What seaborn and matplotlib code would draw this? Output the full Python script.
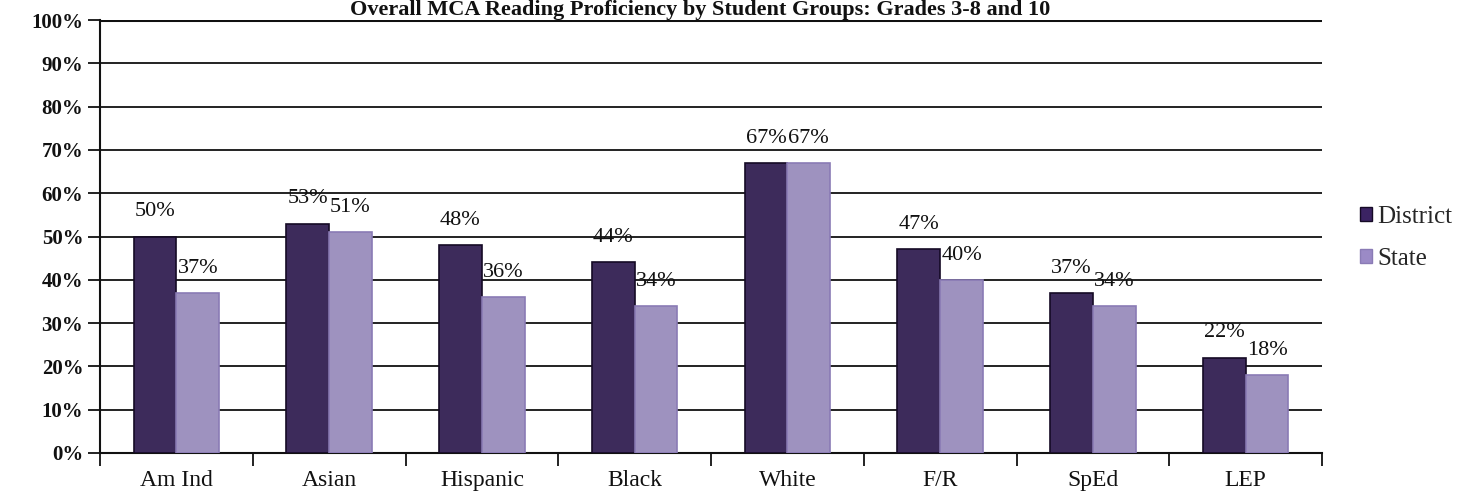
import matplotlib
matplotlib.use("Agg")
import matplotlib.pyplot as plt
import seaborn as sns
import pandas as pd

groups = ["Am Ind", "Asian", "Hispanic", "Black", "White", "F/R", "SpEd", "LEP"]
district = [50, 53, 48, 44, 67, 47, 37, 22]
state = [37, 51, 36, 34, 67, 40, 34, 18]
series = ["District", "State"]
colors = ["#3b2363", "#9b8ac6"]
edges = ["#150a25", "#8a7bb5"]
title = "Overall MCA Reading Proficiency by Student Groups: Grades 3-8 and 10"

df = pd.DataFrame({
    "group": groups * 2,
    "value": district + state,
    "series": [series[0]] * len(groups) + [series[1]] * len(groups),
})

sns.set_theme(style="white")
plt.rcParams["font.family"] = ["Liberation Serif", "DejaVu Serif"]

fig = plt.figure(figsize=(14.74, 5.03), dpi=100)
ax = fig.add_axes([100 / 1474, 50 / 503, 1222 / 1474, 433 / 503])

sns.barplot(data=df, x="group", y="value", hue="series", order=groups,
            hue_order=series, palette=colors, width=0.56, gap=0.0,
            edgecolor="none", ax=ax, legend=False, zorder=3)

# darker outline around each bar
for container, ec in zip(ax.containers, edges):
    for bar in container:
        bar.set_edgecolor(ec)
        bar.set_linewidth(1.2)

ax.set_ylim(0, 100)
ax.set_xlim(-0.5, len(groups) - 0.5)
ax.set_yticks(range(0, 101, 10))
ax.set_yticklabels([f"{v}%" for v in range(0, 101, 10)], fontsize=15,
                   fontweight="bold")
for v in range(10, 101, 10):
    ax.axhline(v, color="#111111", lw=2.2 if v == 100 else 1.3, zorder=1)

ax.set_xticks(range(len(groups)))
ax.set_xticklabels(groups, fontsize=17, color="#111111")
ax.tick_params(axis="x", which="major", length=0, pad=12)
ax.set_xticks([i + 0.5 for i in range(-1, len(groups))], minor=True)
ax.tick_params(axis="x", which="minor", length=9, width=1.3, color="#111111",
               direction="out", bottom=True)
ax.tick_params(axis="y", length=9, width=1.3, color="#111111", left=True,
               direction="out", pad=3, labelcolor="#111111")
ax.set_xlabel("")
ax.set_ylabel("")

for s in ["top", "right"]:
    ax.spines[s].set_visible(False)
for s in ["left", "bottom"]:
    ax.spines[s].set_color("#111111")
    ax.spines[s].set_linewidth(1.5)

# value labels above each bar
for container, vals in zip(ax.containers, [district, state]):
    for bar, v in zip(container, vals):
        ax.annotate(f"{v}%", (bar.get_x() + bar.get_width() / 2, v),
                    xytext=(0, 11), textcoords="offset points",
                    ha="center", va="bottom", fontsize=16, color="#111111")

handles = [plt.Rectangle((0, 0), 1, 1, facecolor=c, edgecolor=e)
           for c, e in zip(colors, edges)]
fig.legend(handles, series, loc="center left", bbox_to_anchor=(1337 / 1474, 265 / 503),
           frameon=False, fontsize=18, handlelength=0.5, handleheight=0.5,
           handletextpad=0.2, labelspacing=0.8)

fig.text(700 / 1474, 1.0, title, ha="center", va="top",
         fontsize=16, fontweight="bold", color="#111111")

fig.savefig("out.png", dpi=100)
